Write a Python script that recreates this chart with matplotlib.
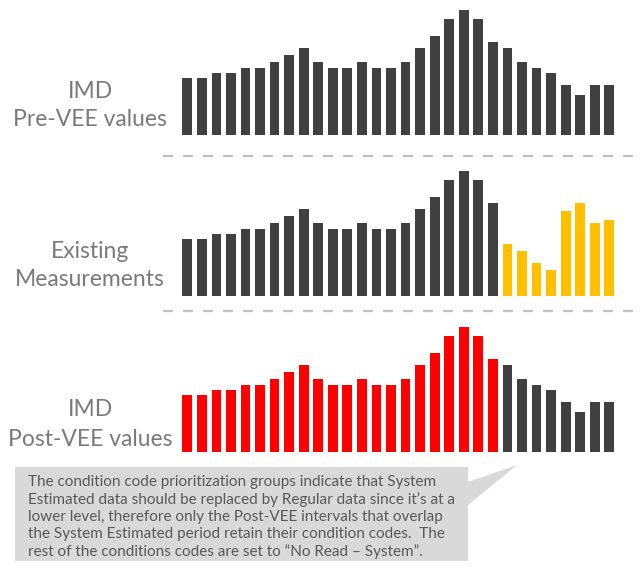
import numpy as np
import matplotlib
matplotlib.use("Agg")
import matplotlib.pyplot as plt
from matplotlib.patches import Polygon

plt.rcParams['font.family'] = ['Lato', 'DejaVu Sans']

# interval readings (same profile in every panel)
pre_vee = [57, 57, 62, 62, 67, 67, 73, 80, 87, 73, 67, 67, 73, 67, 67,
           73, 87, 99, 116, 125, 116, 93, 87, 73, 67, 62, 50, 40, 50, 50]
# existing measurements: last 8 intervals are system estimated
existing = pre_vee[:22] + [52, 45, 33, 26, 85, 93, 73, 76]
n_est = 8
n_post = 22  # intervals that keep their condition codes

DARK = '#404040'
YELLOW = '#FFC000'
RED = '#FF0000'
LABEL = '#7a7a7a'

W, H = 641, 566
fig = plt.figure(figsize=(W / 100, H / 100), dpi=100)

def px_axes(left, base, width, height):
    # pixel box (from top-left) -> figure fraction
    return fig.add_axes([left / W, (H - base) / H, width / W, height / H])

x = np.arange(len(pre_vee))
c_exist = [DARK] * (len(x) - n_est) + [YELLOW] * n_est
c_post = [RED] * n_post + [DARK] * (len(x) - n_post)

panels = [(135, pre_vee, [DARK] * len(x)),
          (296, existing, c_exist),
          (451.5, pre_vee, c_post)]
for base, vals, cols in panels:
    ax = px_axes(180, base, 436.6, 130)
    ax.bar(x, vals, width=0.67, color=cols)
    ax.set_xlim(-0.5, len(x) - 0.5)
    ax.set_ylim(0, 130)
    ax.axis('off')

# overlay in pixel coordinates for labels, separators and the callout
ov = fig.add_axes([0, 0, 1, 1], zorder=-1)
ov.set_xlim(0, W)
ov.set_ylim(H, 0)
ov.axis('off')

for y in (156, 311):
    ov.plot([163, W], [y, y], color='#c0c0c0', lw=1.6, ls=(0, (4.5, 4.5)))

labels = [("IMD", 92), ("Pre-VEE values", 120),
          ("Existing", 252), ("Measurements", 280),
          ("IMD", 410), ("Post-VEE values", 439)]
for txt, y in labels:
    ov.text(90, y, txt, ha='center', va='center', fontsize=16.5, color=LABEL)

box = Polygon([(15, 467), (468, 467), (468, 482), (517, 465), (468, 505),
               (468, 561), (15, 561)], closed=True, facecolor='#d9d9d9',
              edgecolor='none')
ov.add_patch(box)

note = ["The condition code prioritization groups indicate that System",
        "Estimated data should be replaced by Regular data since it\u2019s at a",
        "lower level, therefore only the Post-VEE intervals that overlap",
        "the System Estimated period retain their condition codes.  The",
        "rest of the conditions codes are set to \u201cNo Read \u2013 System\u201d."]
for i, line in enumerate(note):
    ov.text(28, 482 + i * 17.4, line, ha='left', va='center', fontsize=11,
            color='#595959')

fig.savefig('out.png', dpi=100)
